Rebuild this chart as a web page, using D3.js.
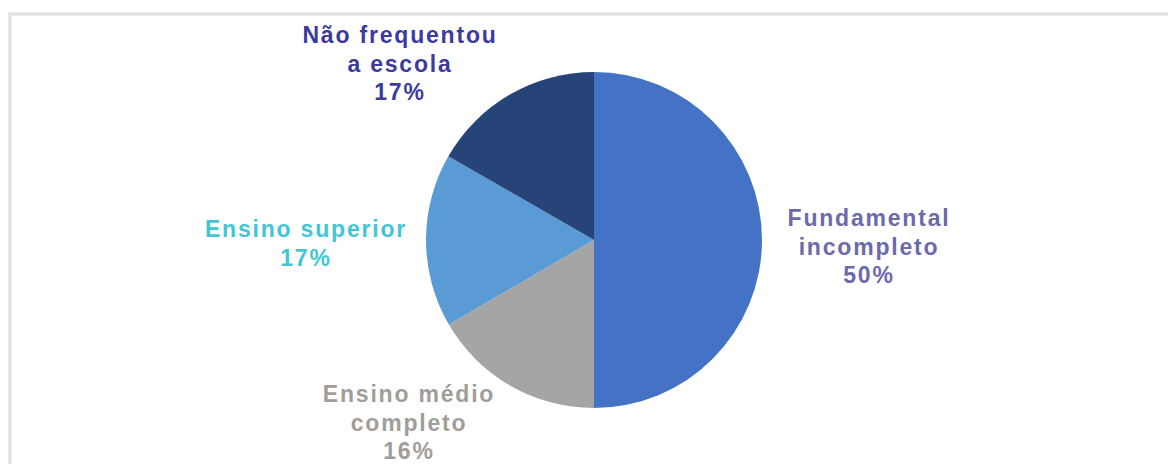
<!DOCTYPE html>
<html>
<head>
<meta charset="utf-8">
<script src="https://cdn.jsdelivr.net/npm/d3@7"></script>
<style>
  body { margin: 0; background: #fff; }
  svg { display: block; }
  .lbl { font-family: "Liberation Sans", Arial, sans-serif; font-weight: bold; font-size: 23px; letter-spacing: 1.8px; }
</style>
</head>
<body>
<svg width="1168" height="464"></svg>
<script>
// data (slice angles: the three small ones are ~1/6 each)
const categories = ['Fundamental incompleto', 'Ensino médio completo', 'Ensino superior', 'Não frequentou a escola'];
const values = [50, 16.6, 16.7, 16.7];
const pctLabels = ['50%', '16%', '17%', '17%'];
const labelLines = [['Fundamental', 'incompleto'], ['Ensino médio', 'completo'], ['Ensino superior'], ['Não frequentou', 'a escola']];

// styles / layout
const sliceColors = ['#4472C4', '#A5A5A5', '#5B9BD5', '#264478'];
const labelColors = ['#6C6AAA', '#A29D98', '#42C6D6', '#3D3A9E'];
const cx = 594, cy = 240, radius = 168;
const lineStep = 28.5;
// label block offsets from pie centre (x centre, first baseline)
const labelOffsets = [[274, -14], [-186, 162], [-289, -3], [-195, -197]];

const svg = d3.select('svg');

// light grey frame, running off the right and bottom edges
svg.append('rect')
  .attr('x', 10).attr('y', 14).attr('width', 1200).attr('height', 500)
  .attr('fill', 'none').attr('stroke', '#e2e2e2').attr('stroke-width', 3.5);

const pie = d3.pie().sort(null).value(d => d)(values);
const arc = d3.arc().innerRadius(0).outerRadius(radius);

const g = svg.append('g').attr('transform', `translate(${cx},${cy})`);
g.selectAll('path').data(pie).enter().append('path')
  .attr('d', arc)
  .attr('fill', (d, i) => sliceColors[i]);

categories.forEach((c, i) => {
  const lines = labelLines[i].concat([pctLabels[i]]);
  const t = g.append('text').attr('class', 'lbl')
    .attr('text-anchor', 'middle')
    .attr('fill', labelColors[i]);
  lines.forEach((ln, j) => {
    t.append('tspan')
      .attr('x', labelOffsets[i][0] + 1)
      .attr('y', labelOffsets[i][1] + j * lineStep)
      .text(ln);
  });
});
</script>
</body>
</html>
